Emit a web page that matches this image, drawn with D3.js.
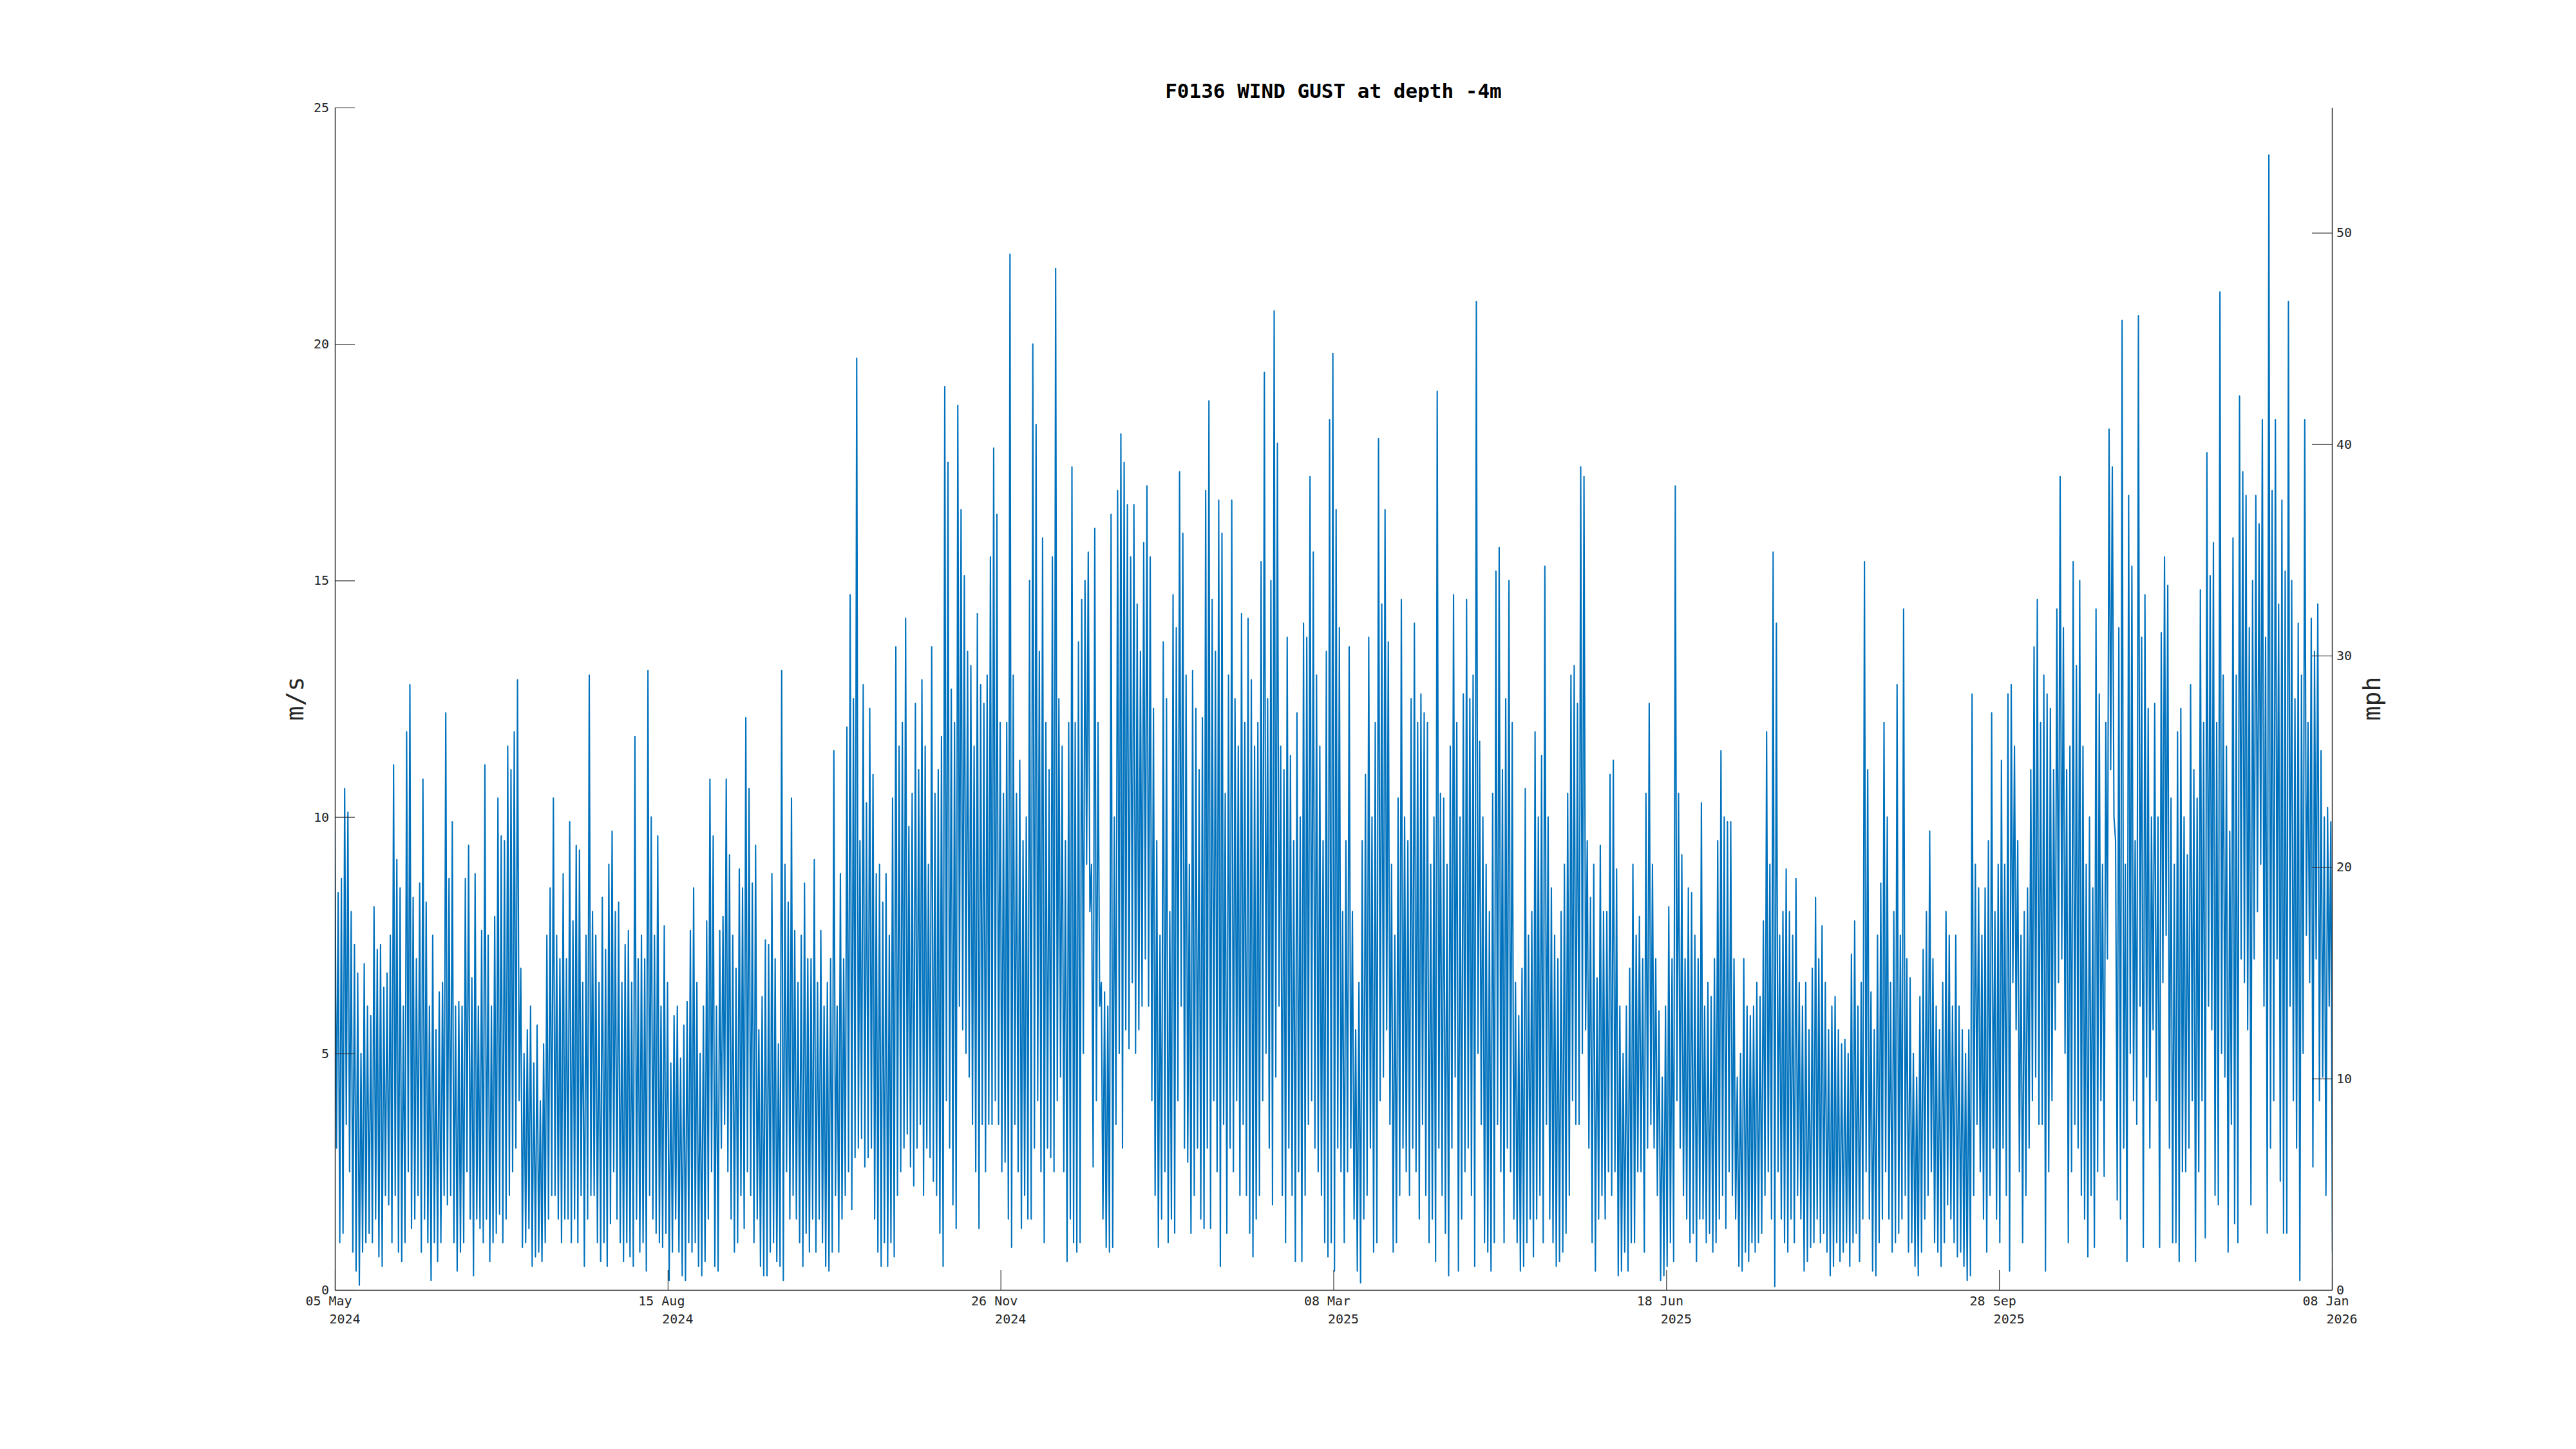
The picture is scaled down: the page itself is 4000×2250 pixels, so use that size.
<!DOCTYPE html>
<html>
<head>
<meta charset="utf-8">
<script src="https://cdn.jsdelivr.net/npm/d3@7"></script>
<style>
  html, body { margin: 0; padding: 0; background: #ffffff; }
  svg { display: block; }
</style>
</head>
<body>
<svg id="chart" width="4000" height="2250"></svg>
<script>
// ---------------- data ----------------
const titleText = "F0136 WIND GUST at depth -4m";
const leftAxisLabel = "m/s";
const rightAxisLabel = "mph";
const axisStart = "2024-05-05T22:00:00Z";
const axisEnd = "2026-01-08T06:00:00Z";
const firstSample = "2024-05-05T22:00:00Z";
const leftTicks = [0, 5, 10, 15, 20, 25];
const rightTicks = [0, 10, 20, 30, 40, 50];
const msToMph = 2.23694;
const leftMax = 25;

// daily gust peak (m/s), one value per day
const dailyPeak = [
10.0, 8.4, 8.7, 10.6, 10.1, 8.0, 7.3, 6.7, 5.0, 6.9,
6.0, 5.8, 8.1, 7.2, 7.3, 6.4, 6.7, 7.5, 11.1, 9.1,
8.5, 6.0, 11.8, 12.8, 8.3, 7.0, 8.6, 10.8, 8.2, 6.0,
7.5, 5.5, 6.3, 6.5, 12.2, 8.7, 9.9, 6.0, 6.1, 6.0,
8.7, 9.4, 6.6, 8.8, 6.0, 7.6, 11.1, 7.5, 6.0, 7.9,
10.4, 9.6, 9.5, 11.5, 11.0, 11.8, 12.9, 6.8, 5.0, 5.5,
6.0, 4.8, 5.6, 4.0, 5.2, 7.5, 8.5, 10.4, 7.5, 7.0,
8.8, 7.0, 9.9, 7.8, 9.4, 9.3, 6.5, 7.5, 13.0, 8.0,
7.5, 6.5, 8.3, 7.2, 9.0, 9.7, 8.0, 8.2, 6.5, 7.3,
7.6, 6.5, 11.7, 7.0, 7.5, 7.0, 13.1, 10.0, 7.5, 9.6,
6.0, 7.7, 6.5, 4.8, 5.8, 6.0, 4.9, 5.6, 6.1, 7.6,
8.5, 6.5, 5.0, 6.0, 7.8, 10.8, 9.6, 6.0, 7.6, 7.9,
10.8, 9.2, 7.5, 6.8, 8.9, 8.5, 12.1, 10.6, 8.6, 9.4,
5.5, 6.2, 7.4, 7.3, 8.8, 7.0, 5.2, 13.1, 9.0, 8.2,
10.4, 7.6, 6.5, 7.5, 8.6, 7.0, 7.0, 9.1, 6.5, 7.6,
6.0, 6.5, 7.0, 11.4, 6.0, 8.8, 7.0, 11.9, 14.7, 12.5,
19.7, 9.5, 12.8, 10.3, 12.3, 10.9, 8.8, 9.0, 8.2, 8.8,
7.5, 10.4, 13.6, 11.5, 12.0, 14.2, 9.8, 10.5, 12.4, 11.0,
12.9, 11.5, 9.0, 13.6, 10.5, 11.0, 11.7, 19.1, 17.5, 12.7,
12.0, 18.7, 16.5, 15.1, 13.5, 13.2, 11.5, 14.3, 12.8, 12.4,
13.0, 15.5, 17.8, 16.4, 12.0, 10.5, 12.0, 21.9, 13.0, 10.5,
11.2, 9.5, 10.0, 15.0, 20.0, 18.3, 13.5, 15.9, 12.0, 11.0,
15.5, 21.6, 12.5, 11.5, 9.5, 12.0, 17.4, 12.0, 13.7, 14.6,
15.0, 15.6, 9.0, 16.1, 12.0, 6.5, 6.3, 6.0, 16.4, 10.0,
16.9, 18.1, 17.5, 16.6, 15.5, 16.6, 14.5, 13.5, 15.8, 17.0,
15.5, 12.3, 9.5, 7.5, 13.7, 12.5, 8.0, 14.7, 14.0, 17.3,
16.0, 13.0, 9.0, 13.1, 12.3, 11.0, 12.1, 16.9, 18.8, 14.6,
13.5, 16.7, 16.0, 10.5, 13.0, 16.7, 12.5, 11.5, 14.3, 12.0,
14.2, 12.9, 11.5, 12.0, 15.4, 19.4, 12.5, 15.0, 20.7, 17.9,
11.5, 11.0, 13.8, 11.3, 9.5, 12.2, 10.0, 14.1, 13.8, 17.2,
15.6, 13.0, 11.5, 9.5, 13.5, 18.4, 19.8, 16.5, 14.0, 8.0,
9.5, 13.6, 8.0, 5.5, 6.5, 9.5, 10.9, 13.8, 10.0, 12.0,
18.0, 14.5, 16.5, 13.7, 9.0, 7.5, 10.4, 14.6, 10.0, 9.5,
12.5, 14.1, 12.0, 12.6, 12.2, 12.0, 9.0, 10.0, 19.0, 10.5,
10.4, 9.0, 11.5, 14.7, 12.0, 10.0, 12.6, 14.6, 12.5, 13.0,
20.9, 11.6, 10.0, 9.0, 8.0, 10.5, 15.2, 15.7, 11.0, 12.5,
15.0, 12.0, 6.5, 5.8, 6.8, 10.6, 7.5, 8.0, 11.8, 10.0,
11.3, 15.3, 10.0, 8.5, 7.5, 7.0, 8.0, 9.0, 10.5, 13.0,
13.2, 12.4, 17.4, 17.2, 9.5, 8.3, 9.0, 6.6, 9.4, 8.0,
8.0, 10.9, 11.2, 8.9, 6.0, 5.0, 6.0, 6.8, 9.0, 7.5,
7.9, 7.0, 10.5, 12.4, 9.0, 7.0, 5.9, 4.5, 6.0, 8.1,
7.0, 17.0, 10.5, 9.2, 7.0, 8.5, 8.4, 7.5, 7.0, 10.3,
6.0, 6.5, 6.2, 7.0, 9.5, 11.4, 10.0, 9.9, 9.9, 7.0,
4.5, 5.0, 7.0, 6.0, 5.8, 6.0, 6.5, 6.2, 7.8, 11.8,
9.0, 15.6, 14.1, 7.5, 8.0, 8.9, 8.0, 7.5, 8.7, 6.5,
6.0, 6.5, 5.5, 6.8, 8.3, 7.0, 7.7, 6.5, 5.5, 6.0,
6.2, 5.5, 5.2, 5.3, 5.0, 7.1, 7.8, 6.0, 6.5, 15.4,
11.0, 6.3, 5.5, 7.5, 8.6, 12.0, 10.0, 6.5, 8.0, 12.8,
7.5, 14.4, 7.0, 6.6, 5.0, 4.5, 6.2, 7.2, 8.0, 9.7,
7.0, 6.0, 5.5, 6.5, 8.0, 7.5, 6.0, 7.5, 6.0, 5.5,
5.0, 5.5, 12.6, 9.0, 8.5, 7.5, 8.5, 9.5, 12.2, 8.0,
9.0, 11.2, 9.0, 12.6, 12.8, 11.5, 9.5, 7.5, 8.0, 8.5,
11.0, 13.6, 14.6, 12.0, 13.0, 12.6, 12.3, 11.0, 14.4, 17.2,
14.0, 11.0, 11.5, 15.4, 13.2, 15.0, 11.5, 9.0, 10.0, 8.5,
14.4, 12.6, 9.0, 12.0, 18.2, 17.4, 9.5, 14.0, 20.5, 9.0,
16.8, 15.3, 9.5, 20.6, 13.8, 14.7, 12.3, 10.0, 12.4, 10.0,
13.9, 15.5, 14.9, 10.4, 9.0, 11.8, 12.3, 10.0, 9.2, 12.8,
11.0, 10.4, 14.8, 12.0, 17.7, 15.1, 15.8, 12.0, 21.1, 13.0,
11.5, 9.7, 15.9, 13.0, 18.9, 17.3, 16.8, 14.0, 15.0, 16.8,
16.2, 18.4, 13.8, 24.0, 16.9, 18.4, 14.5, 16.7, 15.2, 20.9,
15.0, 12.5, 14.1, 13.0, 18.4, 12.0, 14.2, 13.5, 14.5, 11.4,
10.0, 10.2, 9.9
];

// daily gust trough (m/s), one value per day
const dailyTrough = [
3.0, 1.0, 1.2, 3.5, 2.5, 0.8, 0.4, 0.1, 0.8, 1.0,
1.2, 1.0, 1.5, 0.7, 0.5, 2.0, 1.8, 1.0, 2.0, 0.8,
0.6, 1.0, 2.5, 1.3, 1.5, 2.0, 0.8, 1.5, 1.0, 0.2,
1.0, 0.6, 1.0, 2.0, 1.8, 2.0, 1.0, 0.4, 0.8, 1.0,
2.5, 1.5, 0.3, 1.5, 1.3, 1.0, 1.5, 0.6, 1.0, 1.2,
1.6, 1.0, 1.5, 2.0, 2.5, 3.0, 4.0, 0.9, 1.0, 1.3,
0.5, 0.7, 0.8, 0.6, 1.0, 1.5, 2.0, 2.0, 1.5, 1.0,
1.5, 1.5, 1.0, 1.5, 1.0, 2.0, 0.5, 1.5, 2.0, 2.0,
1.0, 0.6, 1.0, 0.5, 1.4, 2.5, 1.5, 1.0, 0.6, 1.0,
0.7, 0.5, 1.5, 0.8, 1.0, 0.4, 2.0, 1.5, 1.2, 1.0,
0.9, 1.2, 0.2, 0.8, 1.5, 0.8, 0.3, 0.2, 1.0, 0.8,
1.0, 0.5, 0.3, 0.6, 1.5, 2.5, 0.5, 0.4, 3.0, 3.5,
2.5, 1.5, 0.8, 1.0, 2.0, 1.3, 2.5, 2.0, 1.0, 1.5,
0.5, 0.3, 0.3, 0.8, 1.0, 0.6, 0.5, 0.2, 2.5, 1.5,
2.0, 1.5, 1.0, 0.5, 1.2, 0.8, 1.5, 0.8, 1.5, 1.0,
0.5, 0.4, 0.8, 2.0, 0.8, 1.5, 2.0, 2.5, 1.7, 2.8,
3.0, 3.2, 2.6, 2.8, 3.0, 1.5, 0.8, 0.5, 1.0, 0.5,
1.0, 0.7, 2.0, 2.5, 3.0, 3.3, 2.6, 2.2, 3.0, 3.5,
2.0, 3.0, 2.8, 2.3, 2.0, 1.2, 0.5, 4.0, 3.0, 1.8,
1.3, 6.0, 5.5, 5.0, 4.5, 3.5, 2.5, 1.3, 3.5, 2.5,
3.5, 3.5, 4.0, 3.5, 2.5, 2.7, 1.5, 0.9, 3.5, 2.5,
1.3, 2.0, 1.5, 1.5, 3.0, 4.0, 2.5, 1.0, 3.0, 2.8,
2.5, 4.0, 4.5, 2.5, 0.6, 1.5, 1.0, 0.8, 1.0, 5.0,
9.0, 8.0, 2.6, 4.0, 6.0, 1.5, 0.9, 0.8, 0.9, 3.5,
5.0, 3.0, 5.5, 5.1, 6.5, 5.0, 5.5, 6.0, 7.0, 6.0,
4.0, 2.0, 0.9, 1.5, 2.5, 1.0, 1.5, 1.2, 4.0, 6.0,
3.0, 2.7, 1.2, 2.0, 3.0, 1.5, 1.3, 3.0, 1.3, 4.0,
2.5, 0.5, 3.5, 1.2, 3.0, 2.5, 4.0, 2.0, 3.5, 2.0,
1.2, 0.7, 1.5, 2.0, 4.0, 5.0, 3.0, 1.8, 4.5, 6.0,
2.0, 1.0, 3.0, 2.0, 0.6, 2.5, 0.6, 2.0, 3.5, 4.0,
3.0, 2.5, 2.0, 1.0, 0.7, 1.0, 0.4, 3.0, 2.5, 1.0,
2.5, 3.0, 1.5, 0.4, 0.15, 1.5, 2.0, 3.0, 0.8, 1.0,
4.0, 4.5, 5.5, 3.5, 0.8, 1.0, 2.0, 3.0, 2.5, 2.0,
3.0, 2.5, 1.5, 3.5, 2.0, 1.0, 1.5, 0.6, 3.0, 2.0,
1.2, 0.3, 3.0, 4.5, 0.4, 1.5, 2.5, 3.0, 2.0, 0.5,
5.0, 3.5, 1.0, 0.8, 0.4, 1.0, 3.5, 2.5, 1.0, 3.0,
2.5, 1.5, 1.0, 0.4, 0.5, 1.0, 1.5, 0.7, 1.5, 2.0,
1.0, 3.5, 1.5, 1.0, 0.5, 0.6, 0.8, 1.2, 2.0, 4.0,
3.5, 3.5, 5.0, 5.5, 3.0, 1.0, 0.4, 1.5, 2.0, 1.5,
2.5, 2.0, 2.5, 0.3, 0.4, 0.8, 0.4, 1.0, 1.0, 2.5,
2.5, 0.8, 3.0, 3.5, 3.0, 2.0, 0.2, 0.3, 0.5, 1.0,
0.6, 4.0, 3.0, 2.0, 1.5, 1.0, 1.2, 0.6, 1.5, 1.5,
1.0, 1.2, 0.8, 1.0, 1.5, 2.0, 1.3, 2.5, 2.0, 1.5,
0.5, 0.4, 0.8, 0.6, 1.0, 0.8, 1.0, 1.2, 2.0, 2.5,
1.5, 0.07, 2.5, 1.5, 1.0, 0.8, 1.5, 1.0, 2.0, 1.5,
0.4, 0.6, 0.9, 1.0, 1.5, 1.0, 1.2, 0.8, 0.3, 0.5,
1.0, 0.6, 0.8, 1.0, 0.5, 1.0, 1.2, 0.6, 1.5, 2.5,
1.5, 0.4, 0.3, 1.0, 1.5, 2.5, 1.5, 0.8, 1.0, 1.2,
1.5, 2.0, 0.8, 1.0, 0.5, 0.3, 0.8, 1.5, 2.0, 2.5,
1.0, 0.8, 0.5, 1.0, 1.8, 1.5, 1.0, 0.7, 0.8, 0.5,
0.2, 0.3, 2.0, 3.5, 2.5, 1.5, 0.8, 2.0, 3.0, 1.5,
1.0, 3.0, 2.0, 0.4, 6.5, 5.5, 2.5, 1.0, 2.0, 3.0,
4.0, 4.5, 3.5, 3.5, 0.4, 2.5, 4.0, 5.5, 6.5, 7.0,
5.0, 1.0, 2.5, 3.5, 3.0, 2.0, 1.5, 0.7, 2.0, 0.9,
2.5, 4.0, 2.4, 7.0, 11.0, 10.0, 1.9, 1.5, 3.0, 0.6,
5.0, 4.0, 3.5, 6.0, 0.9, 4.5, 3.0, 5.5, 4.0, 0.9,
6.5, 7.5, 3.0, 1.0, 1.0, 0.6, 2.5, 2.5, 3.0, 4.0,
0.6, 2.5, 4.0, 1.1, 6.0, 5.5, 2.0, 1.8, 5.0, 4.5,
0.8, 3.5, 1.4, 1.0, 7.0, 6.5, 5.5, 1.8, 7.0, 8.0,
9.0, 6.0, 1.2, 3.0, 4.0, 7.0, 2.3, 1.2, 1.2, 6.0,
4.0, 3.0, 0.2, 5.0, 7.5, 6.5, 2.6, 7.0, 4.0, 4.5,
2.0, 6.0, 0.8
];

// ---------------- drawing ----------------
const W = 4000, H = 2250;
const plot = { left: 520, right: 3621, top: 167, bottom: 2003 };
const ink = "#262626";
const lineColor = "#0072BD";
const monoFont = "'DejaVu Sans Mono', 'Liberation Mono', monospace";

const svg = d3.select("#chart").attr("width", W).attr("height", H);
svg.append("rect").attr("width", W).attr("height", H).attr("fill", "#ffffff");

const t0 = new Date(axisStart), t1 = new Date(axisEnd);
const x = d3.scaleUtc().domain([t0, t1]).range([plot.left, plot.right]);
const y = d3.scaleLinear().domain([0, leftMax]).range([plot.bottom, plot.top]);
const yR = d3.scaleLinear().domain([0, leftMax * msToMph]).range([plot.bottom, plot.top]);

// samples: peak then trough each day, 12 h apart
const DAY = 86400000;
const s0 = new Date(firstSample).getTime();
const samples = [];
dailyPeak.forEach((v, i) => {
  samples.push({ t: new Date(s0 + i * DAY), v: v });
  samples.push({ t: new Date(s0 + i * DAY + DAY / 2), v: dailyTrough[i] });
});

svg.append("clipPath").attr("id", "plotClip")
  .append("rect")
  .attr("x", plot.left).attr("y", plot.top - 20)
  .attr("width", plot.right - plot.left).attr("height", plot.bottom - plot.top + 20);

const line = d3.line().x(d => x(d.t)).y(d => y(d.v));
svg.append("path")
  .datum(samples)
  .attr("clip-path", "url(#plotClip)")
  .attr("fill", "none")
  .attr("stroke", lineColor)
  .attr("stroke-width", 2.1)
  .attr("stroke-linejoin", "round")
  .attr("d", line);

// left axis (ticks inward)
const gL = svg.append("g")
  .attr("transform", `translate(${plot.left},0)`)
  .call(d3.axisLeft(y).tickValues(leftTicks).tickSizeInner(-31).tickSizeOuter(0).tickPadding(9));

// right axis (mph, ticks inward)
const gR = svg.append("g")
  .attr("transform", `translate(${plot.right},0)`)
  .call(d3.axisRight(yR).tickValues(rightTicks).tickSizeInner(-31).tickSizeOuter(0).tickPadding(7));

// bottom axis: ticks split the span into six equal parts
const xTicks = d3.range(7).map(i => new Date(t0.getTime() + i * (t1 - t0) / 6));
const fmtDay = d3.utcFormat("%d %b"), fmtYear = d3.utcFormat("%Y");
const gB = svg.append("g")
  .attr("transform", `translate(0,${plot.bottom})`)
  .call(d3.axisBottom(x).tickValues(xTicks).tickSizeInner(-31).tickSizeOuter(0).tickFormat(""));
gB.selectAll(".tick").each(function (d) {
  const g = d3.select(this);
  g.select("text").remove();
  g.append("text").attr("x", -10).attr("y", 24).attr("text-anchor", "middle").text(fmtDay(d));
  g.append("text").attr("x", 15).attr("y", 52).attr("text-anchor", "middle").text(fmtYear(d));
});

[gL, gR, gB].forEach(g => {
  g.attr("color", ink).attr("font-family", monoFont).attr("font-size", 20);
  g.selectAll("text").attr("fill", ink);
  g.selectAll("path.domain").attr("stroke-width", 1.4);
  g.selectAll(".tick line").attr("stroke-width", 1.1);
});

// title and axis labels
svg.append("text")
  .attr("x", (plot.left + plot.right) / 2).attr("y", 152)
  .attr("text-anchor", "middle")
  .attr("font-family", monoFont).attr("font-size", 31).attr("font-weight", "bold")
  .attr("fill", "#000000")
  .text(titleText);

svg.append("text")
  .attr("transform", `translate(460,${(plot.top + plot.bottom) / 2}) rotate(-90)`)
  .attr("text-anchor", "middle").attr("dominant-baseline", "middle")
  .attr("font-family", monoFont).attr("font-size", 38).attr("fill", ink)
  .text(leftAxisLabel);

svg.append("text")
  .attr("transform", `translate(3685,${(plot.top + plot.bottom) / 2}) rotate(-90)`)
  .attr("text-anchor", "middle").attr("dominant-baseline", "middle")
  .attr("font-family", monoFont).attr("font-size", 38).attr("fill", ink)
  .text(rightAxisLabel);
</script>
</body>
</html>
